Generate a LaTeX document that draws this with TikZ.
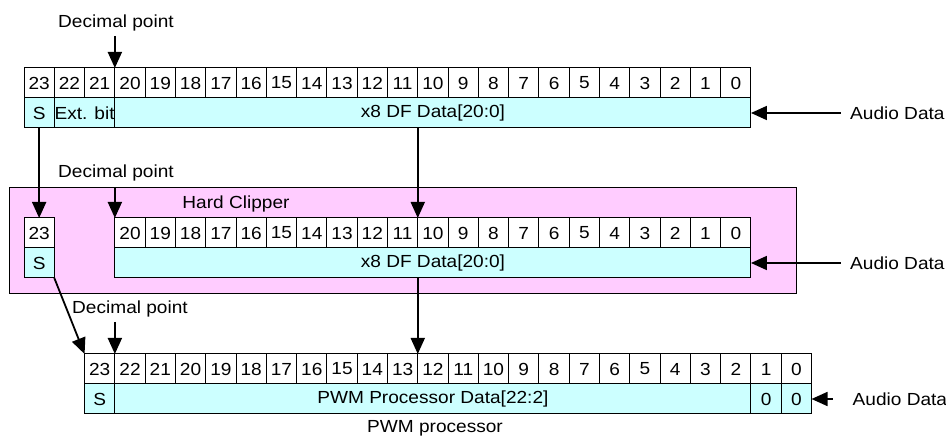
\documentclass[tikz,border=0pt]{standalone}
\usepackage{xcolor}
\usepackage{fontspec}
\setmainfont{Liberation Sans}[FakeStretch=1.09]
\usepackage{tikz}
\usetikzlibrary{arrows.meta, positioning}

\definecolor{fieldcyan}{HTML}{CCFFFF}
\definecolor{clippink}{HTML}{FFCCFF}

\begin{document}
\begin{tikzpicture}[x=1pt, y=-1pt, font=\fontsize{17.5}{20}\selectfont,
        bitcell/.style={draw, fill=white, line width=1pt, minimum width=30.29pt, minimum height=30pt,
            inner sep=0pt, outer sep=0pt, anchor=north west},
        fieldcell/.style={bitcell, fill=fieldcyan},
        lbl/.style={inner sep=4pt},
        arr/.style={-{Triangle[length=16pt, width=14pt]}, line width=1.8pt}]
        \useasboundingbox (0,0) rectangle (946,438);

        % x8 DF input register
        \foreach \b in {0,...,23}
            \node[bitcell] (t\b) at ({24+(23-\b)*30.29}, 68) {\b};
        \node[fieldcell] (tS) at (t23.south west) {S};
        \node[fieldcell, minimum width=60.58pt] (tExt) at (t22.south west) {Ext. bit};
        \node[fieldcell, minimum width=636.1pt] (tdata) at (t20.south west) {x8 DF Data[20:0]};

        % hard clipper
        \node[draw, fill=clippink, line width=1pt, minimum width=787pt, minimum height=106pt,
            inner sep=0pt, outer sep=0pt, anchor=north west] (clip) at (9,188) {};
        \node[lbl, anchor=base] (hc) at (236,209) {Hard Clipper};
        \node[bitcell] (c23) at (24,218) {23};
        \foreach \b in {0,...,20}
            \node[bitcell] (c\b) at ({24+(23-\b)*30.29}, 218) {\b};
        \node[fieldcell] (cS) at (c23.south west) {S};
        \node[fieldcell, minimum width=636.1pt] (cdata) at (c20.south west) {x8 DF Data[20:0]};

        % PWM processor register
        \foreach \b in {0,...,23}
            \node[bitcell] (p\b) at ({24+(25-\b)*30.29}, 354) {\b};
        \node[fieldcell] (pS) at (p23.south west) {S};
        \node[fieldcell, minimum width=636.1pt] (pdata) at (p22.south west) {PWM Processor Data[22:2]};
        \node[fieldcell] (pz1) at (p1.south west) {0};
        \node[fieldcell] (pz0) at (p0.south west) {0};
        \node[lbl, anchor=base] (pwm) at (435,433) {PWM processor};

        % labels
        \node[lbl, anchor=base] (dp1) at (116,28) {Decimal point};
        \node[lbl, anchor=base] (dp2) at (116,178) {Decimal point};
        \node[lbl, anchor=base] (dp3) at (130,314) {Decimal point};
        \node[lbl, right=95pt of tdata] (ad1) {Audio Data};
        \node[lbl, right=95pt of cdata] (ad2) {Audio Data};
        \node[lbl, right=37pt of pz0] (ad3) {Audio Data};

        \draw[arr] (dp1.south -| t20.north west) -- (t20.north west);
        \draw[arr] (clip.north -| c20.north west) -- (c20.north west);
        \draw[arr] (dp3.south -| p22.north west) -- (p22.north west);
        \draw[arr] (tS) -- (c23);
        \draw[arr] (tdata.south -| c10.north west) -- (c10.north west);
        \draw[arr] (cS.south east) -- (p23.north west);
        \draw[arr] (cdata.south -| p12.north west) -- (p12.north west);
        \draw[arr, shorten <=5pt] (ad1.west) -- (tdata.east);
        \draw[arr, shorten <=5pt] (ad2.west) -- (cdata.east);
        \draw[arr, shorten <=16pt] (ad3.west) -- (pz0.east);
    \end{tikzpicture}
\end{document}
